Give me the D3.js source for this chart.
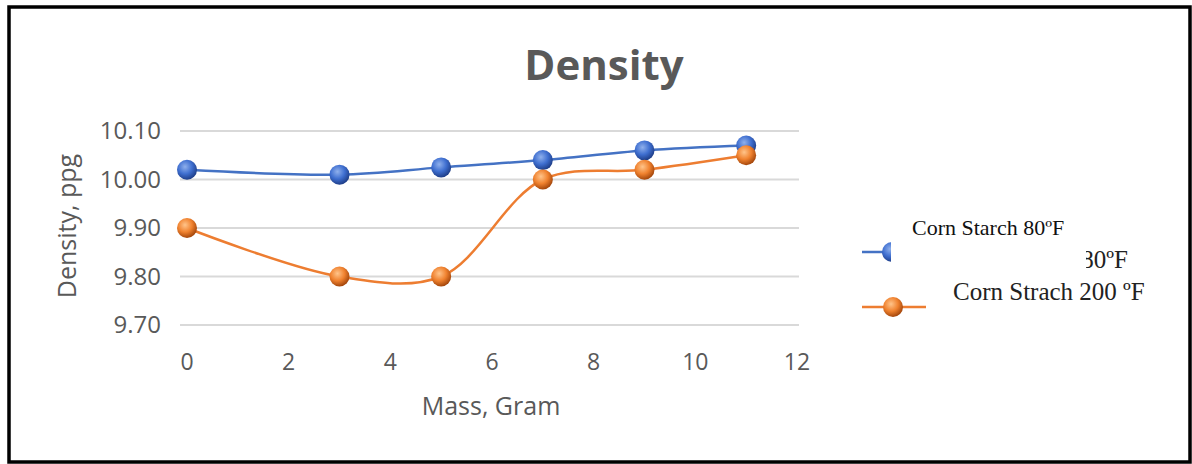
<!DOCTYPE html>
<html><head><meta charset="utf-8">
<script src="https://cdn.jsdelivr.net/npm/d3@7"></script>
<style>html,body{margin:0;padding:0;background:#fff;}svg{display:block;}</style>
</head><body>
<svg id="c" width="1192" height="464"></svg>
<script>
const mass = [0, 3, 5, 7, 9, 11];
const starch80 = [10.02, 10.01, 10.025, 10.04, 10.06, 10.07];
const strach200 = [9.90, 9.80, 9.80, 10.00, 10.02, 10.05];
const yTicks = [9.70, 9.80, 9.90, 10.00, 10.10];
const xTicks = [0, 2, 4, 6, 8, 10, 12];
const seriesNames = ["Corn Starch 80ºF", "Corn Strach 200 ºF"];
const colors = ["#4472c4", "#ed7d31"];

const svg = d3.select("#c");
const defs = svg.append("defs");
function grad(id, light, mid, dark){
  const g = defs.append("radialGradient").attr("id", id).attr("cx","40%").attr("cy","35%").attr("r","65%");
  g.append("stop").attr("offset","0%").attr("stop-color",light);
  g.append("stop").attr("offset","55%").attr("stop-color",mid);
  g.append("stop").attr("offset","100%").attr("stop-color",dark);
}
grad("gB", "#8fb0ec", "#3f6fd0", "#1f3f8a");
grad("gO", "#ffc48a", "#f0822f", "#a5470c");
const fills = ["url(#gB)", "url(#gO)"];

// border
svg.append("rect").attr("x", 9).attr("y", 7).attr("width", 1181).attr("height", 455)
  .attr("fill", "none").attr("stroke", "#000").attr("stroke-width", 3.5);

const x = d3.scaleLinear().domain([0, 12]).range([187, 797]);
const y = d3.scaleLinear().domain([9.70, 10.10]).range([325, 131]);

// gridlines
svg.append("g").selectAll("line").data(yTicks).join("line")
  .attr("x1", 180).attr("x2", 799)
  .attr("y1", d => y(d)).attr("y2", d => y(d))
  .attr("stroke", "#d9d9d9").attr("stroke-width", 1.8);

const font = "'Open Sans', Calibri, sans-serif";
// y tick labels
svg.append("g").selectAll("text").data(yTicks).join("text")
  .attr("x", 161).attr("y", d => y(d)).attr("dy", "0.35em")
  .attr("text-anchor", "end").attr("font-family", font).attr("font-size", 24)
  .attr("fill", "#595959").text(d => d.toFixed(2));
// x tick labels
svg.append("g").selectAll("text").data(xTicks).join("text")
  .attr("x", d => x(d)).attr("y", 362).attr("dy", "0.35em")
  .attr("text-anchor", "middle").attr("font-family", font).attr("font-size", 23)
  .attr("fill", "#595959").text(d => d);

// title
svg.append("text").attr("x", 604).attr("y", 80).attr("text-anchor", "middle")
  .attr("font-family", font).attr("font-weight", "bold").attr("font-size", 42)
  .attr("fill", "#595959").text("Density");
// axis titles
svg.append("text").attr("x", 491).attr("y", 406).attr("dy", "0.35em").attr("text-anchor", "middle")
  .attr("font-family", font).attr("font-size", 25).attr("fill", "#595959").text("Mass, Gram");
svg.append("text").attr("transform", "translate(67,226) rotate(-90)").attr("dy", "0.35em")
  .attr("text-anchor", "middle").attr("font-family", font).attr("font-size", 25)
  .attr("fill", "#595959").text("Density, ppg");

const series = [starch80, strach200];
const line = d3.line().x(d => x(d[0])).y(d => y(d[1])).curve(d3.curveCatmullRom.alpha(0.5));
series.forEach((vals, i) => {
  const pts = mass.map((m, j) => [m, vals[j]]);
  svg.append("path").datum(pts).attr("d", line).attr("fill", "none")
    .attr("stroke", colors[i]).attr("stroke-width", 2.5);
});
series.forEach((vals, i) => {
  const pts = mass.map((m, j) => [m, vals[j]]);
  svg.append("g").selectAll("circle").data(pts).join("circle")
    .attr("cx", d => x(d[0])).attr("cy", d => y(d[1])).attr("r", 10)
    .attr("fill", fills[i]);
});

// legend
const lg = svg.append("g").attr("font-family", "'Liberation Serif', 'Times New Roman', serif");
lg.append("line").attr("x1", 862).attr("x2", 922).attr("y1", 252).attr("y2", 252)
  .attr("stroke", colors[0]).attr("stroke-width", 2.5);
lg.append("circle").attr("cx", 892).attr("cy", 252).attr("r", 10).attr("fill", fills[0]);
lg.append("text").attr("x", 1128).attr("y", 268).attr("text-anchor", "end")
  .attr("font-size", 25).attr("fill", "#222").text(seriesNames[0]);
lg.append("line").attr("x1", 862).attr("x2", 926).attr("y1", 307).attr("y2", 307)
  .attr("stroke", colors[1]).attr("stroke-width", 2.5);
lg.append("circle").attr("cx", 893).attr("cy", 307).attr("r", 10).attr("fill", fills[1]);
lg.append("text").attr("x", 953).attr("y", 300)
  .attr("font-size", 25).attr("fill", "#222").text(seriesNames[1]);
// white patch covering original legend entry
lg.append("rect").attr("x", 891).attr("y", 208).attr("width", 195).attr("height", 70).attr("fill", "#fff");
lg.append("text").attr("x", 912).attr("y", 235)
  .attr("font-size", 22).attr("fill", "#111").text(seriesNames[0]);
</script>
</body></html>
